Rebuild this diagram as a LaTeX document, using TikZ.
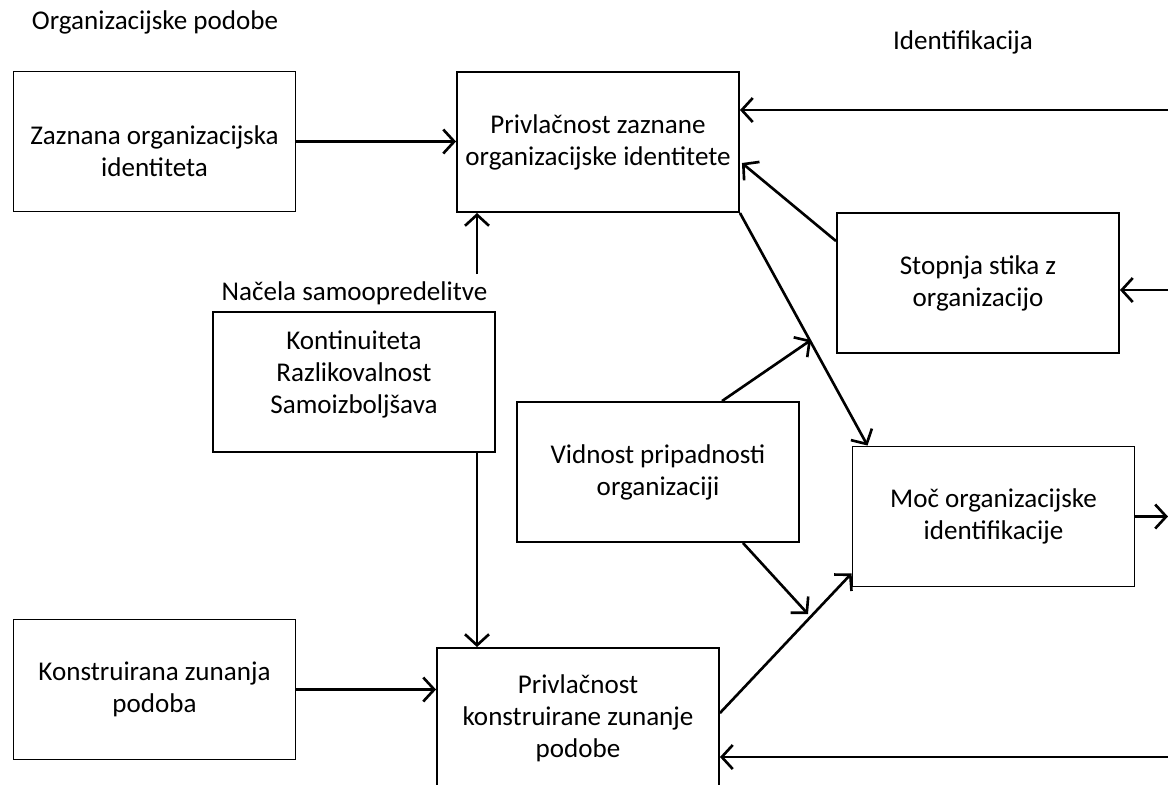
\documentclass[tikz,border=0pt]{standalone}
\usepackage{fontspec}
\setmainfont{Carlito}
\usetikzlibrary{arrows.meta,calc}
\newcommand{\liftup}[2]{\raisebox{#1}[\height][\depth]{\begin{tabular}{@{}c@{}}#2\end{tabular}}}

\begin{document}
\begin{tikzpicture}[x=1cm,y=1cm,font=\fontsize{7.7}{9.1}\selectfont]
  \tikzstyle{box}=[draw,line width=0.55pt,minimum width=2.82cm,minimum height=1.4cm,align=center,inner sep=0pt]
  \tikzstyle{arr}=[line width=0.75pt,-{Straight Barb[length=1.1mm,width=2.4mm]}]
  \clip (0,0) rectangle (11.68,-7.84);

  % headings
  \node (orgp) at (1.55,-0.22) {Organizacijske podobe};
  \node (ident) at (9.63,-0.42) {Identifikacija};
  \node (nac) at (3.545,-2.93) {Načela samoopredelitve};

  % boxes
  \node[box] (zaz) at (1.545,-1.415) {\liftup{-0.13cm}{Zaznana organizacijska\\identiteta}};
  \node[box] (privz) at (5.98,-1.42) {Privlačnost zaznane\\organizacijske identitete};
  \node[box] (stop) at (9.78,-2.83) {Stopnja stika z\\organizacijo};
  \node[box] (kont) at (3.54,-3.82) {\liftup{0.07cm}{Kontinuiteta\\Razlikovalnost\\Samoizboljšava}};
  \node[box] (vid) at (6.58,-4.72) {Vidnost pripadnosti\\organizaciji};
  \node[box] (moc) at (9.935,-5.165) {Moč organizacijske\\identifikacije};
  \node[box] (konst) at (1.545,-6.895) {Konstruirana zunanja\\podoba};
  \node[box] (privk) at (5.78,-7.18) {Privlačnost\\konstruirane zunanje\\podobe};

  % loose ends
  \coordinate (in1) at (11.68,-1.10);
  \coordinate (in2) at (11.68,-2.90);
  \coordinate (out) at (11.68,-5.20);
  \coordinate (in3) at (11.68,-7.57);
  \coordinate (up) at (4.77,-2.74);
  \coordinate (v1) at (8.11,-3.40);
  \coordinate (v2) at (8.08,-6.14);

  % connectors
  \draw[arr] (zaz.east) -- (zaz.east -| privz.west);
  \draw[arr] (in1) -- (in1 -| privz.east);
  \draw[arr] ($(stop.north west)+(0,-0.29)$) -- ($(privz.east)+(0.02,-0.21)$);
  \draw[arr] (in2) -- (in2 -| stop.east);
  \draw[arr] (privz.south east) -- ($(moc.north west)+(0.16,0)$);
  \draw[arr] ($(vid.north)+(0.64,0)$) -- (v1);
  \draw[arr] ($(vid.south)+(0.85,0)$) -- (v2);
  \draw[arr] ($(privk.east)+(0,0.05)$) -- ($(moc.south west)+(0,0.14)$);
  \draw[arr] (up) -- (up |- privz.south);
  \draw[arr] (kont.south -| up) -- (up |- privk.north);
  \draw[arr] (konst.east) -- (konst.east -| privk.west);
  \draw[arr] (moc.east) -- (moc.east -| out);
  \draw[arr] (in3) -- (in3 -| privk.east);
\end{tikzpicture}
\end{document}
